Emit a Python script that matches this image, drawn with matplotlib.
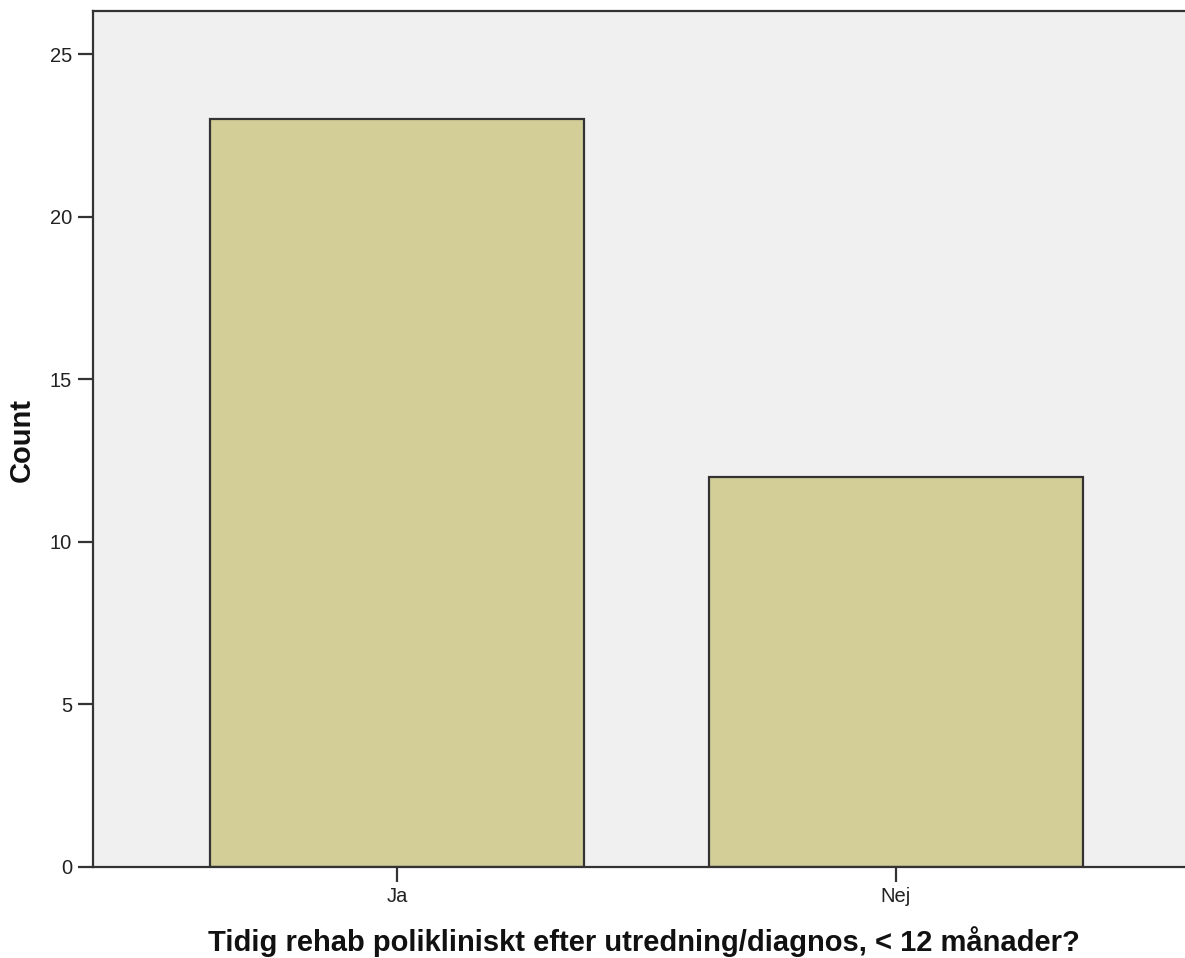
import matplotlib
matplotlib.use("Agg")
import matplotlib.pyplot as plt

categories = ["Ja", "Nej"]
counts = [23, 12]
yticks = [0, 5, 10, 15, 20, 25]

plt.rcParams['font.family'] = ['Liberation Sans', 'DejaVu Sans']

W, H = 1185, 958
fig = plt.figure(figsize=(W / 100, H / 100), dpi=100)
ax = fig.add_axes([93/W, (H-866.5)/H, 1 - 93/W, (866.5-11)/H])
ax.set_facecolor('#F0F0F0')
x = list(range(len(categories)))
ax.bar(x, counts, width=0.75, color='#D3CE98', edgecolor='#333333', linewidth=1.6, zorder=2)
ax.set_xlim(-0.61, 1.58)
ax.set_ylim(0, 26.33)
ax.set_yticks(yticks)
ax.set_yticklabels([str(t) for t in yticks], fontsize=14.5, color='#222222')
ax.set_xticks(x)
ax.set_xticklabels(categories, fontsize=14.5, color='#222222')
ax.tick_params(axis='y', direction='out', length=11, width=1.6, color='#333333', pad=4)
ax.tick_params(axis='x', direction='out', length=11, width=1.6, color='#333333', pad=4)
for s in ['left', 'bottom', 'top']:
    ax.spines[s].set_color('#333333')
    ax.spines[s].set_linewidth(1.6)
ax.spines['right'].set_visible(False)

fig.text(22/W, 1 - 440/H, 'Count', rotation=90, fontsize=21, fontweight='bold',
         ha='center', va='center', color='#111111')
fig.text(644/W, 1 - 951/H, 'Tidig rehab polikliniskt efter utredning/diagnos, < 12 månader?',
         fontsize=21, fontweight='bold', ha='center', va='baseline', color='#111111')
fig.savefig('out.png', dpi=100)
